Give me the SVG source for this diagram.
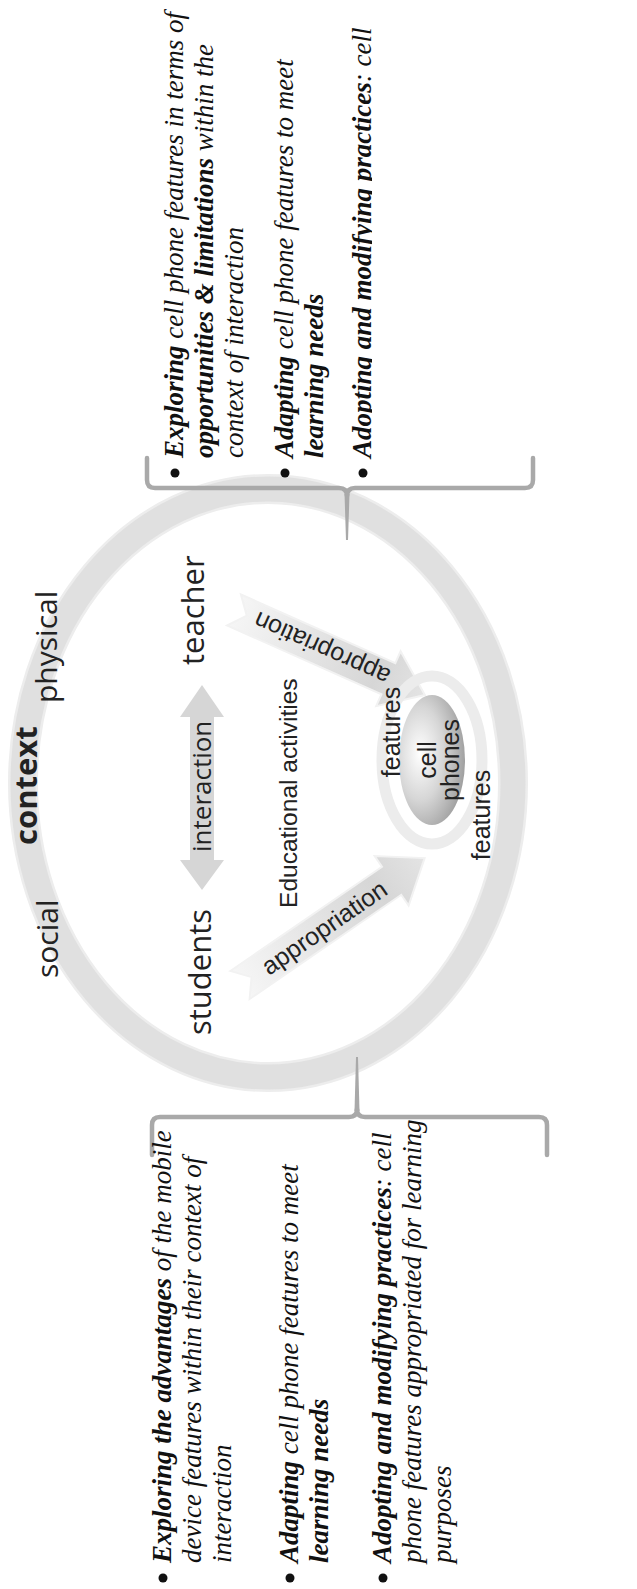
<svg xmlns="http://www.w3.org/2000/svg" width="637" height="1589" viewBox="0 0 637 1589">
<style>
.ser{font-family:"Liberation Serif","Times New Roman",serif;font-style:italic;font-size:27px;fill:#111}
.b{font-weight:bold}
.os{font-family:"Open Sans","DejaVu Sans",sans-serif;fill:#222}
.ls{font-family:"Liberation Sans",Arial,sans-serif;fill:#222}
.brk{fill:none;stroke:#a9a9a9;stroke-width:4.5;stroke-linecap:round;stroke-linejoin:round}
.arr{fill:url(#arrG);stroke:#f2f2f2;stroke-width:2}
</style>
<defs>
<linearGradient id="arrG" x1="0" y1="0" x2="1" y2="0">
<stop offset="0" stop-color="#f6f6f6"/>
<stop offset="0.75" stop-color="#d6d6d6"/>
<stop offset="1" stop-color="#e4e4e4"/>
</linearGradient>
<radialGradient id="phG" cx="0.32" cy="0.45" r="0.8">
<stop offset="0" stop-color="#ffffff"/>
<stop offset="0.45" stop-color="#d6d6d6"/>
<stop offset="1" stop-color="#8c8c8c"/>
</radialGradient>
<clipPath id="topClip"><rect x="0" y="0" width="372" height="482"/></clipPath>
</defs>
<rect width="637" height="1589" fill="#fff"/>

<g id="context-ring">
<ellipse cx="268" cy="783" rx="245" ry="294" fill="none" stroke="#ededed" stroke-width="30"/>
<ellipse cx="268" cy="783" rx="245" ry="294" fill="none" stroke="#e0e0e0" stroke-width="25"/>
<text class="os" font-weight="bold" font-size="31" x="37" y="845" transform="rotate(-90 37 845)">context</text>
<text class="os" font-size="30" x="58" y="978" transform="rotate(-90 58 978)">social</text>
<text class="os" font-size="30" x="57" y="703" transform="rotate(-90 57 703)">physical</text>
</g>

<g id="teacher">
<text class="os" font-size="31" x="204" y="665" transform="rotate(-90 204 665)">teacher</text>
</g>
<g id="students">
<text class="os" font-size="31" x="211" y="1035" transform="rotate(-90 211 1035)">students</text>
</g>
<g id="educational-activities">
<text class="ls" font-size="24.6" x="297" y="908" transform="rotate(-90 297 908)">Educational activities</text>
</g>

<g id="connectors">
<g transform="translate(234 610) rotate(24)">
<polygon class="arr" points="0,-17 169,-17 169,-30 209,0 169,30 169,17 0,17 14,0"/>
<text class="ls" font-size="25" text-anchor="middle" dominant-baseline="central" x="96" y="0" transform="rotate(180 96 0)">appropriation</text>
</g>
<g transform="translate(240 985) rotate(-34.5)">
<polygon class="arr" points="0,-17 184,-17 184,-30 224,0 184,30 184,17 0,17 14,0"/>
<text class="ls" font-size="25" text-anchor="middle" dominant-baseline="central" x="102" y="0">appropriation</text>
</g>
<g id="interaction">
<polygon points="202,685 224,717 214,717 214,860 224,860 202,890 180,860 190,860 190,717 180,717" fill="#d6d6d6"/>
<text class="os" font-size="26" x="211" y="852" transform="rotate(-90 211 852)">interaction</text>
</g>
</g>

<g id="cell-phones">
<ellipse cx="432" cy="760" rx="50" ry="84" fill="none" stroke="#ececec" stroke-width="11"/>
<ellipse cx="432" cy="760" rx="33" ry="65" fill="url(#phG)"/>
<text class="ls" font-size="25" text-anchor="middle" x="436" y="760" transform="rotate(-90 436 760)">cell</text>
<text class="ls" font-size="25" text-anchor="middle" x="459" y="760" transform="rotate(-90 459 760)">phones</text>
<text class="ls" font-size="25" text-anchor="middle" x="400" y="732" transform="rotate(-90 400 732)">features</text>
<text class="ls" font-size="25" text-anchor="middle" x="490" y="815" transform="rotate(-90 490 815)">features</text>
</g>

<g id="bracket-top">
<path class="brk" d="M147,458 L147,480 Q147,488 155,488 L339,488 Q347,488 347,496 M347,496 Q347,488 355,488 L525,488 Q533,488 533,480 L533,458"/>
<polygon points="344.5,494 349.5,494 348,540 346,540" fill="#a9a9a9"/>
</g>
<g id="bracket-bottom">
<path class="brk" d="M152,1155 L152,1125 Q152,1117 160,1117 L349,1117 Q357,1117 357,1109 M357,1109 Q357,1117 365,1117 L539,1117 Q547,1117 547,1125 L547,1155"/>
<polygon points="354.5,1111 359.5,1111 358,1057 356,1057" fill="#a9a9a9"/>
</g>

<g id="text-top" clip-path="url(#topClip)">
<circle cx="175" cy="473" r="4.5" fill="#111"/>
<circle cx="285" cy="473" r="4.5" fill="#111"/>
<circle cx="363" cy="473" r="4.5" fill="#111"/>
<text class="ser" x="183" y="458" transform="rotate(-90 183 458)"><tspan class="b">Exploring</tspan> cell phone features in terms of</text>
<text class="ser" x="213" y="458" transform="rotate(-90 213 458)"><tspan class="b">opportunities &amp; limitations</tspan> within the</text>
<text class="ser" x="243" y="458" transform="rotate(-90 243 458)">context of interaction</text>
<text class="ser" x="293" y="458" transform="rotate(-90 293 458)"><tspan class="b">Adapting</tspan> cell phone features to meet</text>
<text class="ser b" x="323" y="458" transform="rotate(-90 323 458)">learning needs</text>
<text class="ser" x="371" y="458" transform="rotate(-90 371 458)"><tspan class="b">Adopting and modifying practices</tspan>: cell</text>
</g>

<g id="text-bottom">
<circle cx="163" cy="1578" r="4.5" fill="#111"/>
<circle cx="290" cy="1578" r="4.5" fill="#111"/>
<circle cx="383" cy="1578" r="4.5" fill="#111"/>
<text class="ser" x="171" y="1563" transform="rotate(-90 171 1563)"><tspan class="b">Exploring the advantages</tspan> of the mobile</text>
<text class="ser" x="201" y="1563" transform="rotate(-90 201 1563)">device features within their context of</text>
<text class="ser" x="231" y="1563" transform="rotate(-90 231 1563)">interaction</text>
<text class="ser" x="298" y="1563" transform="rotate(-90 298 1563)"><tspan class="b">Adapting</tspan> cell phone features to meet</text>
<text class="ser b" x="328" y="1563" transform="rotate(-90 328 1563)">learning needs</text>
<text class="ser" x="391" y="1563" transform="rotate(-90 391 1563)"><tspan class="b">Adopting and modifying practices</tspan>: cell</text>
<text class="ser" x="421" y="1563" transform="rotate(-90 421 1563)">phone features appropriated for learning</text>
<text class="ser" x="451" y="1563" transform="rotate(-90 451 1563)">purposes</text>
</g>
</svg>
